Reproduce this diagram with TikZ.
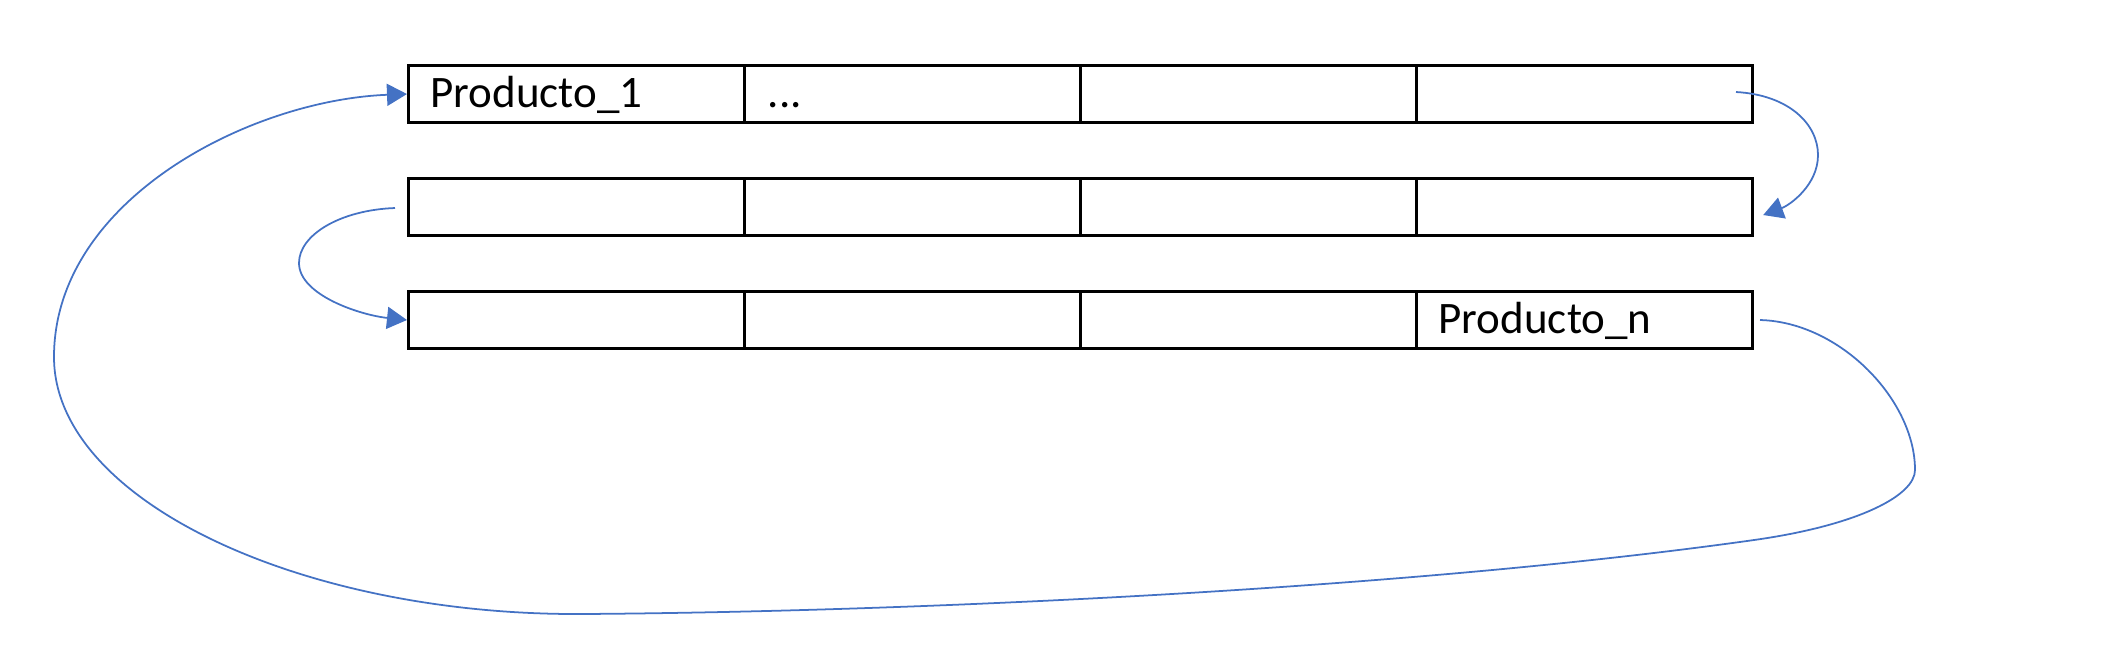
\documentclass[tikz,border=0pt]{standalone}
\usepackage{fontspec}
\setmainfont{Carlito}
\usetikzlibrary{arrows.meta,calc}
\definecolor{linkblue}{HTML}{4472C4}
\begin{document}
\begin{tikzpicture}[x=0.01cm,y=-0.01cm,
  cell/.style={draw=black,line width=0.85pt,minimum width=3.36cm,minimum height=0.57cm,inner sep=0pt,anchor=north west},
  lbl/.style={anchor=base west,inner sep=0pt,font=\fontsize{12.8pt}{14pt}\selectfont},
  link/.style={draw=linkblue,line width=0.5pt,-{Triangle[length=0.2cm,width=0.22cm]}}]
\useasboundingbox (0,0) rectangle (2115,653);
% rows
\foreach \r/\y in {1/64,2/177,3/290}{
  \foreach \c/\x in {1/407,2/743,3/1079,4/1415}{
    \node[cell] (r\r c\c) at (\x,\y) {};
  }
}
\node[lbl] (p1) at (430,107) {Producto\_1};
\node[lbl] (dots) at (767,107) {...};
\node[lbl] (pn) at (1438,333) {Producto\_n};
% connectors
\coordinate (aS) at (1736,92);
\coordinate (aM) at (1818,155);
\coordinate (aT) at ($(r2c4.east)+(9,8)$);
\path[link] (aS) .. controls (1790,95) and (1818,125) .. (aM)
  .. controls (1818,185) and (1790,205) .. (aT);
\coordinate (bS) at (395,208);
\coordinate (bM) at (299,263);
\path[link] (bS) .. controls (340,210) and (299,235) .. (bM)
  .. controls (299,295) and (360,315) .. (r3c1.west);
\coordinate (cS) at (1760,320);
\coordinate (c1) at (1915,470);
\coordinate (c2) at (1754,540);
\coordinate (c3) at (580,614);
\coordinate (c4) at (54,357);
\path[link] (cS) .. controls (1840,322) and (1915,400) .. (c1)
  .. controls (1915,495) and (1860,525) .. (c2)
  .. controls (1400,590) and (900,612) .. (c3)
  .. controls (300,615) and (54,500) .. (c4)
  .. controls (54,200) and (250,100) .. (r1c1.west);
\end{tikzpicture}
\end{document}
